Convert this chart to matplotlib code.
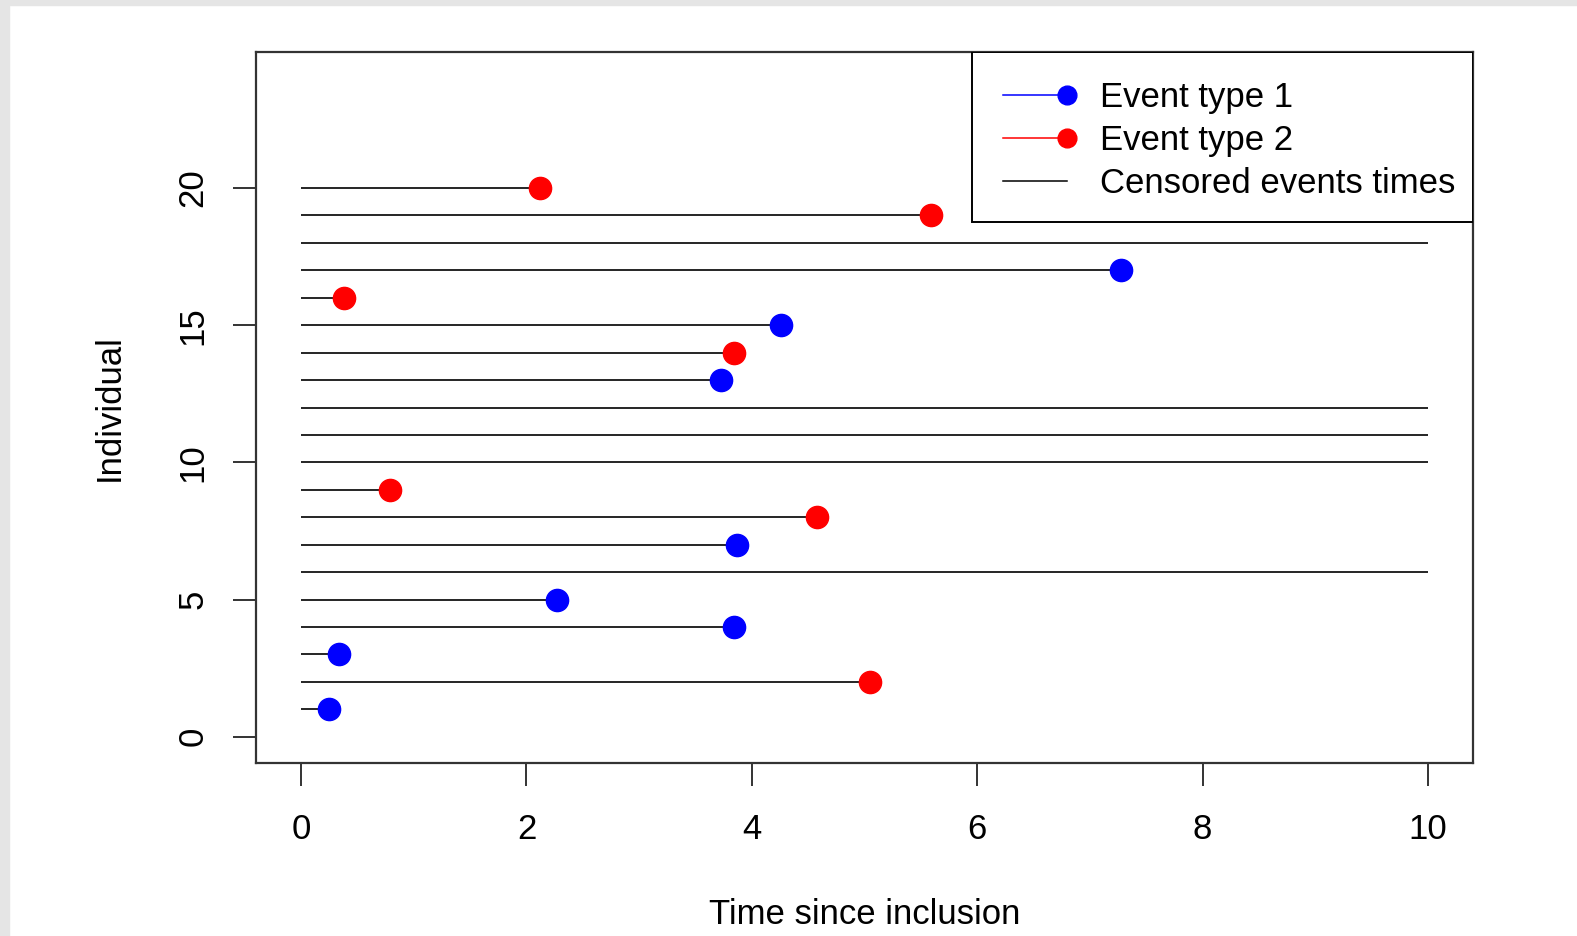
import matplotlib
matplotlib.use('Agg')
import matplotlib.pyplot as plt
from matplotlib import rcParams
from matplotlib.lines import Line2D
from matplotlib.legend_handler import HandlerBase
from matplotlib.patches import Rectangle
import numpy as np

# individuals and their follow-up times, 0 = censored, 1/2 = event type
individual = np.arange(1, 21)
time = [0.25, 5.05, 0.34, 3.84, 2.27, 10.0, 3.87, 4.58, 0.785, 10.0,
        10.0, 10.0, 3.73, 3.84, 4.26, 0.38, 7.28, 10.0, 5.59, 2.12]
status = [1, 2, 1, 1, 1, 0, 1, 2, 2, 0, 0, 0, 1, 2, 1, 2, 1, 0, 2, 2]
labels = ['Event type 1', 'Event type 2', 'Censored events times']
xticks = [0, 2, 4, 6, 8, 10]
yticks = [0, 5, 10, 15, 20]

rcParams['font.family'] = 'Liberation Sans'
rcParams['font.size'] = 25

time = np.array(time)
status = np.array(status)


class LineDot(HandlerBase):
    # line with the dot at the right end, like R's legend(pch=, lty=)
    def __init__(self, dot=True, **kw):
        super().__init__(**kw)
        self.dot = dot

    def create_artists(self, legend, orig, xd, yd, w, h, fs, trans):
        y = h / 2 - yd
        x0 = -xd
        x1 = -xd + w
        ln = Line2D([x0, x1], [y, y], color=orig.get_color(), lw=1.1)
        ln.set_transform(trans)
        if not self.dot:
            return [ln]
        dot = Line2D([x1], [y], marker='o', ms=13.5, ls='none',
                     color=orig.get_color())
        dot.set_transform(trans)
        return [ln, dot]


fig = plt.figure(figsize=(15.77, 9.36), dpi=100, facecolor='w')
fig.patches.append(Rectangle((0, 1 - 5 / 936), 1, 5 / 936, transform=fig.transFigure,
                             color='#e5e5e5', zorder=-1))
fig.patches.append(Rectangle((0, 0), 9 / 1577, 1, transform=fig.transFigure,
                             color='#e5e5e5', zorder=-1))

ax = fig.add_axes([256 / 1577, 1 - 763 / 936, (1473 - 256) / 1577, (763 - 52) / 936])

ax.hlines(individual, 0, time, color='k', lw=1.2)
m1 = status == 1
m2 = status == 2
ax.plot(time[m1], individual[m1], 'o', color='#0000ff', ms=16, zorder=3)
ax.plot(time[m2], individual[m2], 'o', color='#ff0000', ms=16, zorder=3)

ax.set_xlim(-0.4, 10.4)
ax.set_ylim(-0.96, 24.96)
ax.set_xticks(xticks)
ax.set_yticks(yticks)
ax.tick_params(length=16.5, width=1.4, color='#333333')
ax.tick_params(axis='x', pad=19.5)
ax.tick_params(axis='y', pad=17, labelrotation=90)
for t in ax.get_yticklabels():
    t.set_va('center')
for s in ax.spines.values():
    s.set_linewidth(1.6)
    s.set_color('#333333')

ax.set_xlabel('Time since inclusion')
ax.xaxis.set_label_coords(0.5, -0.1895)
ax.set_ylabel('Individual')
ax.yaxis.set_label_coords(-0.1067, 0.5)

# legend box drawn separately (R pads it more at top/bottom than at sides)
ax.add_patch(Rectangle((0.5887, 0.7605), 0.4113, 0.2395, transform=ax.transAxes,
                       facecolor='w', edgecolor='k', lw=1.4, zorder=4))
h1 = Line2D([], [], color='#0000ff')
h2 = Line2D([], [], color='#ff0000')
h3 = Line2D([], [], color='k')
leg = ax.legend([h1, h2, h3], labels, loc='upper right', bbox_to_anchor=(1, 0.985),
                borderaxespad=0, frameon=False, handlelength=1.82,
                handletextpad=0.95, labelspacing=0.29, borderpad=0.52,
                handler_map={h1: LineDot(), h2: LineDot(), h3: LineDot(dot=False)})
leg.set_zorder(5)

plt.savefig('out.png', dpi=100)
